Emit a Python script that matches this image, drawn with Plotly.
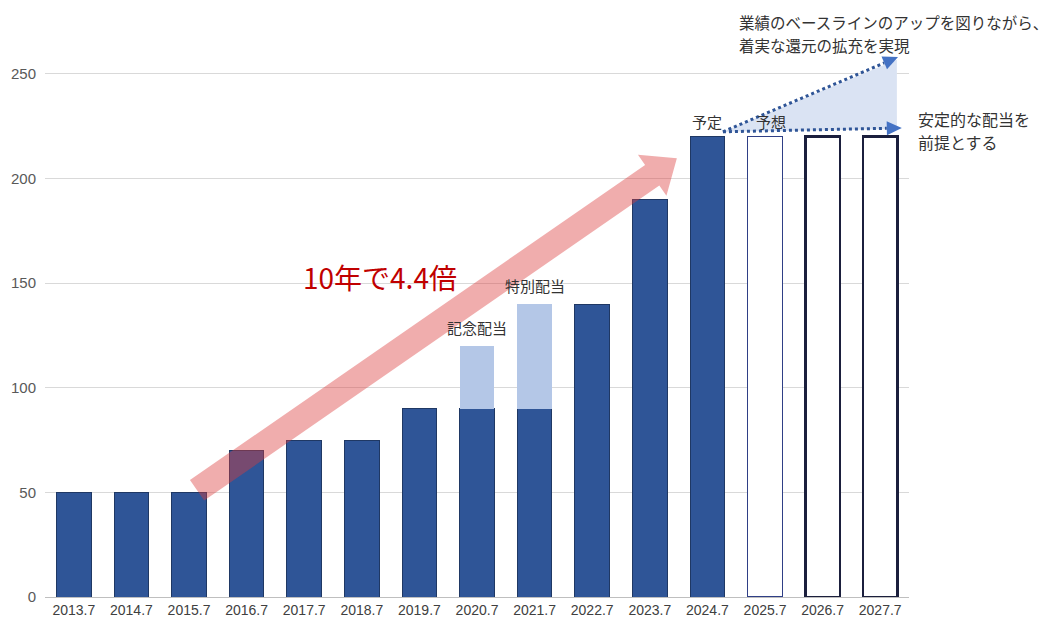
import math
import plotly.graph_objects as go

# ---------------- data ----------------
years = ["2013.7", "2014.7", "2015.7", "2016.7", "2017.7", "2018.7", "2019.7", "2020.7",
         "2021.7", "2022.7", "2023.7", "2024.7", "2025.7", "2026.7", "2027.7"]
ordinary = [50, 50, 50, 70, 75, 75, 90, 90, 90, 140, 190, 220, None, None, None]
special = [None, None, None, None, None, None, None, 30, 50, None, None, None, None, None, None]
forecast = [None] * 12 + [220, 220, 220]
y_ticks = [0, 50, 100, 150, 200, 250]

special_labels = {7: "記念配当", 8: "特別配当"}
status_labels = [("予定", 11, 227), ("予想", 12.1, 227)]

# ---------------- layout geometry ----------------
W, H = 1057, 617
ML, MR, MT, MB = 45, 148, 11, 20
YMAX = 280
PW = W - ML - MR
PH = H - MT - MB
SX = PW / len(years)
SY = PH / YMAX
idx = list(range(len(years)))

FONT_JP = "Noto Sans CJK JP, Noto Sans, sans-serif"
FONT_NUM = "Liberation Sans, Arial, sans-serif"


def to_px(x, y):
    return ML + (x + 0.5) * SX, H - MB - y * SY


def from_px(px, py):
    return (px - ML) / SX - 0.5, (H - MB - py) / SY


def path_from_px(points):
    pts = [from_px(*p) for p in points]
    return "M " + " L ".join(f"{x:.4f},{y:.4f}" for x, y in pts) + " Z"


def arrow_polygon(tail, tip, shaft_hw, head_hw, head_len):
    (tx, ty), (hx, hy) = to_px(*tail), to_px(*tip)
    dx, dy = hx - tx, hy - ty
    L = math.hypot(dx, dy)
    ux, uy = dx / L, dy / L
    nx, ny = -uy, ux
    bx, by = hx - ux * head_len, hy - uy * head_len
    return [
        (tx + nx * shaft_hw, ty + ny * shaft_hw),
        (bx + nx * shaft_hw, by + ny * shaft_hw),
        (bx + nx * head_hw, by + ny * head_hw),
        (hx, hy),
        (bx - nx * head_hw, by - ny * head_hw),
        (bx - nx * shaft_hw, by - ny * shaft_hw),
        (tx - nx * shaft_hw, ty - ny * shaft_hw),
    ]


def head_triangle(start, tip, length, hw):
    (sx, sy), (hx, hy) = to_px(*start), to_px(*tip)
    dx, dy = hx - sx, hy - sy
    L = math.hypot(dx, dy)
    ux, uy = dx / L, dy / L
    nx, ny = -uy, ux
    bx, by = hx - ux * length, hy - uy * length
    tri = [(hx, hy), (bx + nx * hw, by + ny * hw), (bx - nx * hw, by - ny * hw)]
    base = from_px(bx, by)
    return tri, base


fig = go.Figure()

fig.add_trace(go.Bar(
    x=idx, y=ordinary, width=0.6,
    marker=dict(color="#2f5597", line=dict(color="#1f3864", width=1)),
    showlegend=False, hoverinfo="skip"))
fig.add_trace(go.Bar(
    x=idx, y=special, width=0.6,
    marker=dict(color="#b4c7e7", line=dict(color="#b4c7e7", width=0)),
    showlegend=False, hoverinfo="skip"))
fig.add_trace(go.Bar(
    x=idx, y=forecast, width=0.6,
    marker=dict(color="white",
                line=dict(color=["#2f3f86" if i == 12 else "#1b1f3d" for i in idx],
                          width=[1.5 if i == 12 else 2.5 for i in idx])),
    showlegend=False, hoverinfo="skip"))

shapes = []

# light-blue wedge for the outlook
start = (11.27, 222.3)
shapes.append(dict(type="path", xref="x", yref="y", layer="above",
                   path=path_from_px([to_px(*start), to_px(14.29, 256.7), to_px(14.29, 223.6)]),
                   fillcolor="#dae3f3", line=dict(width=0)))

# dotted arrows
for tip in [(14.31, 258.0), (14.375, 224.1)]:
    tri, base = head_triangle(start, tip, 15, 7)
    shapes.append(dict(type="line", xref="x", yref="y", layer="above",
                       x0=start[0], y0=start[1], x1=base[0], y1=base[1],
                       line=dict(color="#2f5597", width=3, dash="dot")))
    shapes.append(dict(type="path", xref="x", yref="y", layer="above",
                       path=path_from_px(tri), fillcolor="#4472c4", line=dict(width=0)))

# big translucent red arrow
shapes.append(dict(type="path", xref="x", yref="y", layer="above",
                   path=path_from_px(arrow_polygon((2.14, 51.0), (10.47, 209.7), 12.5, 25, 30)),
                   fillcolor="rgba(220,60,60,0.42)", line=dict(width=0)))

annotations = []
annotations.append(dict(x=5.31, y=153, xref="x", yref="y", text="10年で4.4倍", showarrow=False,
                        font=dict(family=FONT_JP, size=28, color="#c00000")))
for i, t in special_labels.items():
    top = (ordinary[i] or 0) + (special[i] or 0)
    annotations.append(dict(x=i, y=top + 3, xref="x", yref="y", text=t, showarrow=False,
                            yanchor="bottom", font=dict(family=FONT_JP, size=15, color="#333333")))
for t, x, y in status_labels:
    annotations.append(dict(x=x, y=y, xref="x", yref="y", text=t, showarrow=False,
                            font=dict(family=FONT_JP, size=15, color="#333333")))
annotations.append(dict(x=11.51, y=274.7, xref="x", yref="y", xanchor="left",
                        text="業績のベースラインのアップを図りながら、", showarrow=False,
                        font=dict(family=FONT_JP, size=15.5, color="#333333")))
annotations.append(dict(x=11.51, y=263.7, xref="x", yref="y", xanchor="left",
                        text="着実な還元の拡充を実現", showarrow=False,
                        font=dict(family=FONT_JP, size=15.5, color="#333333")))
annotations.append(dict(x=(916 - ML) / PW, y=228.3, xref="paper", yref="y", xanchor="left",
                        text="安定的な配当を", showarrow=False,
                        font=dict(family=FONT_JP, size=16, color="#333333")))
annotations.append(dict(x=(916 - ML) / PW, y=217.2, xref="paper", yref="y", xanchor="left",
                        text="前提とする", showarrow=False,
                        font=dict(family=FONT_JP, size=16, color="#333333")))

fig.update_layout(
    width=W, height=H,
    margin=dict(l=ML, r=MR, t=MT, b=MB, pad=0, autoexpand=False),
    paper_bgcolor="white", plot_bgcolor="white",
    barmode="stack",
    shapes=shapes, annotations=annotations,
    xaxis=dict(range=[-0.5, len(years) - 0.5], tickvals=idx, ticktext=years,
               automargin=False,
               showgrid=False, zeroline=False, showline=True, linecolor="#bfbfbf", linewidth=1,
               ticks="", tickfont=dict(family=FONT_NUM, size=14, color="#404040")),
    yaxis=dict(range=[0, YMAX], tickvals=y_ticks, showgrid=True, gridcolor="#d9d9d9",
               automargin=False,
               gridwidth=1, zeroline=False, showline=False, ticks="",
               ticklabelstandoff=8,
               tickfont=dict(family=FONT_NUM, size=15, color="#595959")),
)

fig.write_html("out.html", config={"displayModeBar": False},
               post_script="document.body.style.margin='0';document.body.style.overflow='hidden';")
